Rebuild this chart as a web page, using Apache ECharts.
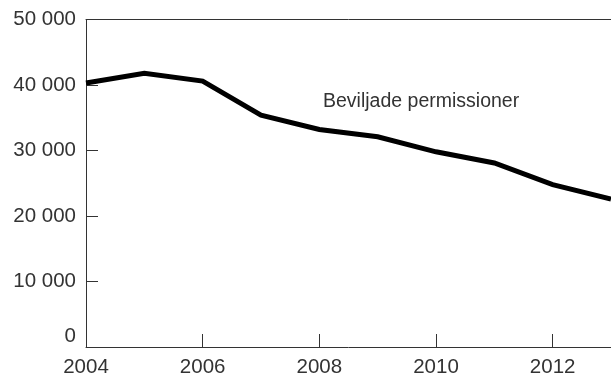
<!DOCTYPE html>
<html><head><meta charset="utf-8">
<script src="https://cdn.jsdelivr.net/npm/echarts@6/dist/echarts.min.js"></script>
<style>html,body{margin:0;padding:0;background:#fff}#c{width:611px;height:378px}</style>
</head><body><div id="c"></div>
<script>
const years = [2004, 2005, 2006, 2007, 2008, 2009, 2010, 2011, 2012, 2013];
const permissioner = [40300, 41800, 40600, 35400, 33200, 32100, 29800, 28100, 24800, 22600];
const seriesLabel = 'Beviljade permissioner';
const fmt = v => String(v).replace(/\B(?=(\d{3})+(?!\d))/g, ' ');
const chart = echarts.init(document.getElementById('c'), null, {renderer: 'canvas'});
const txt = {color: '#333', fontFamily: 'Liberation Sans, Arial, sans-serif', fontSize: 20.5};
chart.setOption({
  animation: false,
  backgroundColor: '#fff',
  grid: {left: 86, right: -3, top: 19.5, bottom: 31, containLabel: false},
  xAxis: [{
    type: 'value', min: 2004, max: 2013, interval: 2,
    axisLine: {show: true, lineStyle: {color: '#333', width: 1}},
    axisTick: {show: true, inside: true, length: 13, lineStyle: {color: '#333'}},
    axisLabel: Object.assign({margin: 10, showMaxLabel: false, formatter: v => (v % 2 === 0 ? String(v) : '')}, txt),
    splitLine: {show: false}
  }, {
    type: 'value', min: 2004, max: 2013, position: 'top',
    axisLine: {show: true, lineStyle: {color: '#333', width: 1}},
    axisTick: {show: false}, axisLabel: {show: false}, splitLine: {show: false}
  }],
  yAxis: {
    type: 'value', min: 0, max: 50000, interval: 10000,
    axisLine: {show: true, lineStyle: {color: '#333', width: 1}},
    axisTick: {show: true, inside: true, length: 12, lineStyle: {color: '#333'}},
    axisLabel: Object.assign({margin: 10, formatter: fmt, verticalAlignMinLabel: 'bottom'}, txt),
    splitLine: {show: false}
  },
  series: [{
    type: 'line', name: seriesLabel,
    data: years.map((y, i) => [y, permissioner[i]]),
    showSymbol: false, clip: true,
    lineStyle: {color: '#000', width: 5, join: 'miter'}
  }],
  graphic: [{
    type: 'text', left: 323, top: 92,
    style: {text: seriesLabel, fill: '#333', font: '19.5px "Liberation Sans", Arial, sans-serif'}
  }]
});
</script></body></html>
